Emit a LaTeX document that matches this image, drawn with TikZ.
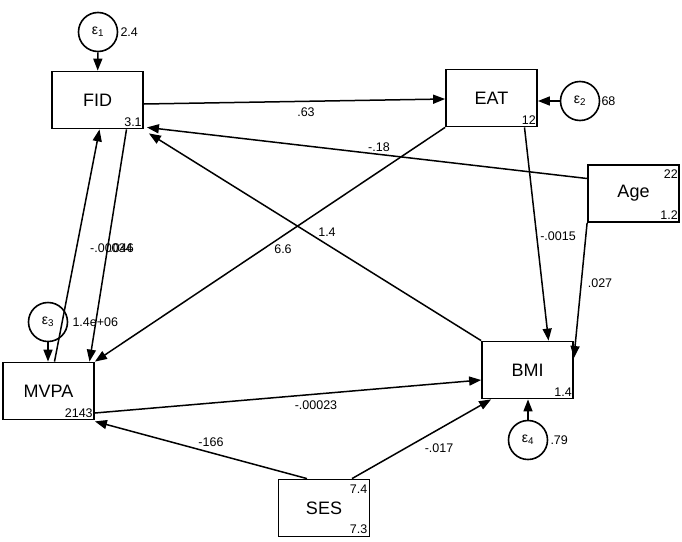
\documentclass[tikz,border=0pt]{standalone}
\usepackage{fontspec}
\setmainfont{Liberation Sans}
\usetikzlibrary{arrows.meta,calc}
\tikzset{
  varbox/.style={draw, line width=1.8pt, minimum width=91pt, minimum height=57pt, inner sep=0pt, font=\fontsize{18}{18}\selectfont},
  errc/.style={draw, circle, line width=1.6pt, minimum size=39pt, inner sep=0pt, font=\fontsize{14}{14}\selectfont},
  pathar/.style={line width=1.5pt, -{Triangle[length=12pt,width=9pt]}},
  lbl/.style={font=\fontsize{12.5}{13}\selectfont, inner sep=0pt},
}
\begin{document}
\begin{tikzpicture}[x=1pt,y=-1pt]
\fill[white] (0,0) rectangle (682,541);
\useasboundingbox (0,0) rectangle (682,541);
% variables
\node[varbox] (FID) at (97.5,100) {FID};
\node[varbox] (EAT) at (491.5,98) {EAT};
\node[varbox] (Age) at (633.5,193.5) {Age};
\node[varbox] (MVPA) at (48.5,391) {MVPA};
\node[varbox] (BMI) at (527.5,370) {BMI};
\node[varbox] (SES) at (324,508) {SES};
% errors
\node[errc] (e1) at (98,32) {ε\textsubscript{1}};
\node[errc] (e2) at (580,101) {ε\textsubscript{2}};
\node[errc] (e3) at (48,322) {ε\textsubscript{3}};
\node[errc] (e4) at (528,440) {ε\textsubscript{4}};
% variances / intercepts
\node[lbl, anchor=west] (v1) at ([xshift=2pt]e1.east) {2.4};
\node[lbl, anchor=west] (v2) at ([xshift=1pt]e2.east) {68};
\node[lbl, anchor=west] (v3) at ([xshift=4pt]e3.east) {1.4e+06};
\node[lbl, anchor=west] (v4) at ([xshift=2pt]e4.east) {.79};
\node[lbl, anchor=south east] (iFID) at ([xshift=-2pt,yshift=3pt]FID.south east) {3.1};
\node[lbl, anchor=south east] (iEAT) at ([xshift=-2pt,yshift=3pt]EAT.south east) {12};
\node[lbl, anchor=north east] (mAge) at ([xshift=-2pt,yshift=-5pt]Age.north east) {22};
\node[lbl, anchor=south east] (iAge) at ([xshift=-2pt,yshift=3pt]Age.south east) {1.2};
\node[lbl, anchor=south east] (iMVPA) at ([xshift=-2pt,yshift=3pt]MVPA.south east) {2143};
\node[lbl, anchor=south east] (iBMI) at ([xshift=-2pt,yshift=3pt]BMI.south east) {1.4};
\node[lbl, anchor=north east] (mSES) at ([xshift=-3pt,yshift=-6pt]SES.north east) {7.4};
\node[lbl, anchor=south east] (iSES) at ([xshift=-3pt,yshift=4pt]SES.south east) {7.3};
% paths
\draw[pathar] (e1) -- (FID);
\draw[pathar] ([yshift=-4pt]FID.east) -- ([yshift=-1pt]EAT.west);
\draw[pathar] (e2) -- ([yshift=-3pt]EAT.east);
\draw[pathar] ([yshift=15pt]Age.west) -- ([xshift=3pt,yshift=2pt]FID.south east);
\draw[pathar] (EAT.south west) -- (MVPA.north east);
\draw[pathar] (BMI.north west) -- ([xshift=5pt,yshift=-4pt]FID.south east);
\draw[pathar] ([xshift=33pt]EAT.south) -- ([xshift=21pt]BMI.north);
\draw[pathar] (Age.south west) -- ([yshift=12pt]BMI.east);
\draw[pathar] ([xshift=6pt]MVPA.north) -- ([xshift=2pt]FID.south);
\draw[pathar] ([xshift=29pt]FID.south) -- ([xshift=41pt]MVPA.north);
\draw[pathar] (e3) -- (e3 |- MVPA.north);
\draw[pathar] ([yshift=-22pt]MVPA.east) -- ([yshift=-10pt]BMI.west);
\draw[pathar] ([xshift=-17pt]SES.north) -- ([yshift=-1pt]MVPA.south east);
\draw[pathar] ([xshift=28pt]SES.north) -- ([xshift=10pt]BMI.south west);
\draw[pathar] (e4) -- (e4 |- BMI.south);
% coefficient labels
\node[lbl] (c1) at (306,112) {.63};
\node[lbl] (c2) at (379,147) {-.18};
\node[lbl] (c3) at (327,232) {1.4};
\node[lbl] (c4) at (283,249) {6.6};
\node[lbl] (c5) at (558,236) {-.0015};
\node[lbl] (c6) at (600,283) {.027};
\node[lbl, anchor=west] (c7) at (90,248) {-.00034};
\node[lbl, anchor=east] (c8) at (134,248) {.046};
\node[lbl] (c9) at (316,405) {-.00023};
\node[lbl] (c10) at (211,442) {-166};
\node[lbl] (c11) at (439,448) {-.017};
\end{tikzpicture}
\end{document}
